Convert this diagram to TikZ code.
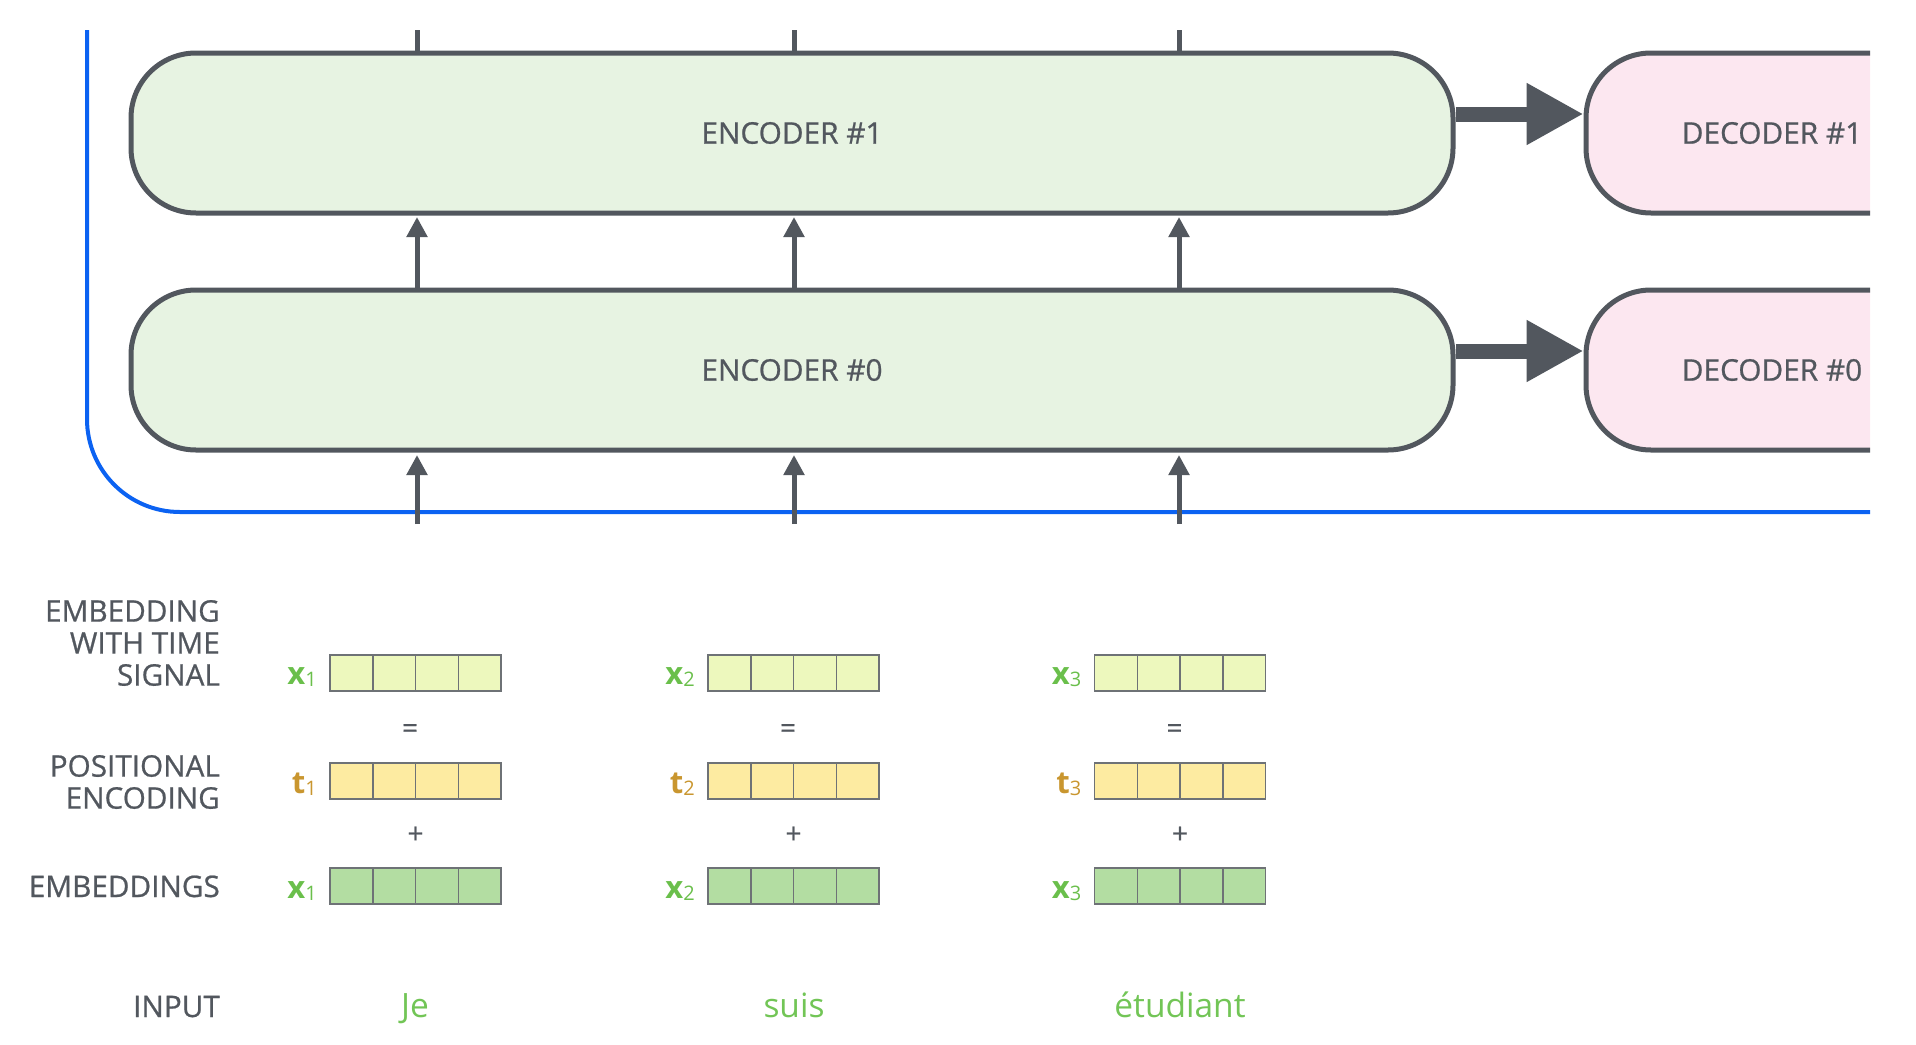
\documentclass[tikz,border=0pt]{standalone}
\usepackage{fontspec}
\setmainfont{Open Sans}
\newfontfamily\semib[FakeBold=0.7]{Open Sans}
\usetikzlibrary{arrows.meta,calc}
\definecolor{ink}{HTML}{52575E}
\definecolor{encfill}{HTML}{E7F3E2}
\definecolor{decfill}{HTML}{FCE7F0}
\definecolor{blueline}{HTML}{0B62F2}
\definecolor{sigfill}{HTML}{EDF8BD}
\definecolor{posfill}{HTML}{FDEBA1}
\definecolor{embfill}{HTML}{B3DDA2}
\definecolor{cellline}{HTML}{6E7276}
\definecolor{xgreen}{HTML}{6ABF4B}
\definecolor{tgold}{HTML}{C9962F}
\definecolor{wgreen}{HTML}{72C556}
\newcommand\subdig[1]{\raisebox{-2pt}{\fontsize{20}{20}\selectfont\mdseries #1}}
\begin{document}
\begin{tikzpicture}[x=1pt,y=-1pt,
  block/.style={draw=ink, line width=5pt, rounded corners=65pt, minimum height=160pt, inner sep=0pt, text=ink, font=\semib\fontsize{29.8}{34}\selectfont},
  upar/.style={draw=ink, line width=5pt, -{Triangle[length=20pt,width=20pt]}},
  stub/.style={draw=ink, line width=5pt},
  bigar/.style={draw=ink, line width=15pt, -{Triangle[length=57pt,width=58pt]}},
  cell/.style={draw=cellline, line width=1.5pt, minimum width=42.75pt, minimum height=36pt, inner sep=0pt, outer sep=0pt},
  rowlab/.style={text=ink, align=right, inner sep=0pt, font=\semib\fontsize{29.7}{32}\selectfont},
  vlab/.style={anchor=base east, inner sep=0pt, font=\fontsize{31}{31}\selectfont\bfseries},
  op/.style={text=ink, inner sep=0pt, font=\semib\fontsize{28}{28}\selectfont},
  word/.style={text=wgreen, anchor=base, inner sep=0pt, font=\fontsize{33.5}{33.5}\selectfont}
]
\useasboundingbox (0,0) rectangle (1916,1044);

% blue frame line
\coordinate (btop) at (87,30);
\coordinate (bcorner) at (87,512);
\coordinate (bend) at (1870,512);
\draw[blueline, line width=4pt, rounded corners=93pt] (btop) -- (bcorner) -- (bend);

% encoders
\node[block, fill=encfill, minimum width=1322pt] (enc1) at (792,133) {ENCODER \#1};
\node[block, fill=encfill, minimum width=1322pt] (enc0) at (792,370) {ENCODER \#0};

% decoders (clipped at the right)
\begin{scope}
\clip (0,0) rectangle (1870,1044);
\node[block, fill=decfill, minimum width=372pt] (dec1) at (1772,133) {DECODER \#1};
\node[block, fill=decfill, minimum width=372pt] (dec0) at (1772,370) {DECODER \#0};
\end{scope}

% thick arrows encoder -> decoder
\draw[bigar] ($(enc1.east)+(0,-19)$) -- ($(dec1.west)+(0,-19)$);
\draw[bigar] ($(enc0.east)+(0,-19)$) -- ($(dec0.west)+(0,-19)$);

% vertical arrows
\foreach \i/\x in {1/417,2/794,3/1179} {
  \coordinate (in\i) at (\x,524);
  \coordinate (out\i) at (\x,30);
  \draw[upar] (in\i) -- ($(enc0.south -| in\i)+(0,2.5)$);
  \draw[upar] (enc0.north -| in\i) -- ($(enc1.south -| in\i)+(0,1.5)$);
  \draw[stub] (enc1.north -| in\i) -- (out\i);
}

% row labels
\node[rowlab, anchor=east] (lsig) at (220,643) {EMBEDDING\\WITH TIME\\SIGNAL};
\node[rowlab, anchor=east] (lpos) at (220,782) {POSITIONAL\\ENCODING};
\node[rowlab, anchor=base east] (lemb) at (220,897) {EMBEDDINGS};
\node[rowlab, anchor=base east] (linp) at (220,1017) {INPUT};

% vectors
\foreach \c/\cx in {1/330,2/708,3/1094.5} {
  \foreach \r/\ry/\rf in {s/655/sigfill,p/763/posfill,e/868/embfill} {
    \foreach \k in {0,1,2,3} {
      \node[cell, fill=\rf, anchor=north west] (\r\c-\k) at (\cx+\k*42.75,\ry) {};
    }
  }
  \node[vlab, text=xgreen] (xs\c) at (\cx-13,684) {x\subdig{\c}};
  \node[vlab, text=tgold] (tp\c) at (\cx-13,793) {t\subdig{\c}};
  \node[vlab, text=xgreen] (xe\c) at (\cx-13,898) {x\subdig{\c}};
  \node[op] (eq\c) at (\cx+80,731) {=};
  \node[op] (pl\c) at (\cx+85.5,835) {+};
}

% input words
\node[word] (w1) at (415,1017) {Je};
\node[word] (w2) at (794,1017) {suis};
\node[word] (w3) at (1180,1017) {étudiant};
\end{tikzpicture}
\end{document}
